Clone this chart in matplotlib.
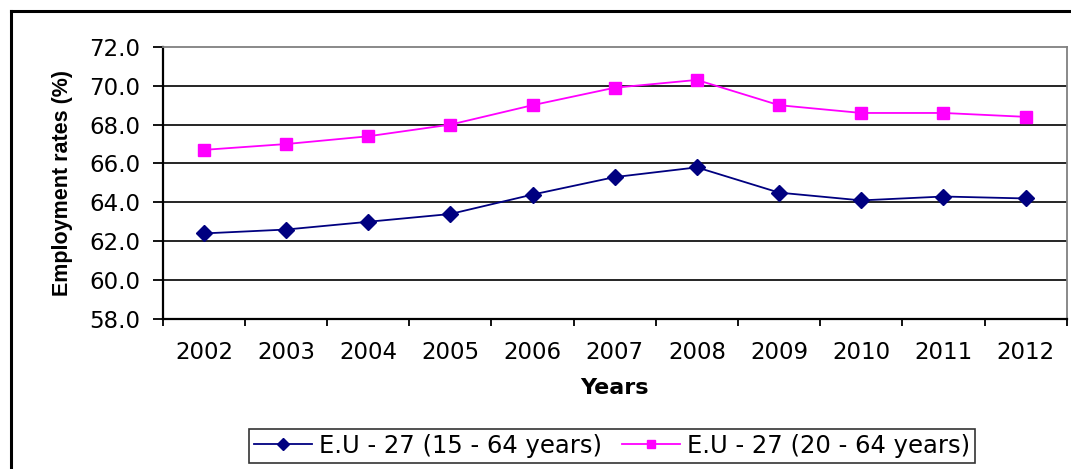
import matplotlib.pyplot as plt
from matplotlib.lines import Line2D

years = ['2002', '2003', '2004', '2005', '2006', '2007', '2008', '2009', '2010', '2011', '2012']
eu_15_64 = [62.4, 62.6, 63.0, 63.4, 64.4, 65.3, 65.8, 64.5, 64.1, 64.3, 64.2]
eu_20_64 = [66.7, 67.0, 67.4, 68.0, 69.0, 69.9, 70.3, 69.0, 68.6, 68.6, 68.4]
yticks = [58.0, 60.0, 62.0, 64.0, 66.0, 68.0, 70.0, 72.0]

plt.rcParams['font.family'] = ['DejaVu Sans']
fs = 16.5

fig = plt.figure(figsize=(10.71, 4.69), dpi=100)
ax = fig.add_axes([0.152, 0.320, 0.844, 0.580])

x = list(range(len(years)))
ax.plot(x, eu_15_64, color='#000080', marker='D', markersize=8, lw=1.3,
        label='E.U - 27 (15 - 64 years)')
ax.plot(x, eu_20_64, color='#FF00FF', marker='s', markersize=8.5, lw=1.3,
        label='E.U - 27 (20 - 64 years)')

ax.set_xlim(-0.5, len(years) - 0.5)
ax.set_ylim(58, 72)
ax.set_yticks(yticks)
ax.set_yticklabels(['%.1f' % v for v in yticks], fontsize=fs)
ax.set_xticks([i - 0.5 for i in range(len(years) + 1)])
ax.set_xticklabels([])
ax.set_xticks(x, minor=True)
ax.set_xticklabels(years, minor=True, fontsize=fs)
ax.tick_params(axis='x', which='minor', length=0, pad=16)
ax.tick_params(axis='x', which='major', length=5, width=1.3, direction='out')
ax.tick_params(axis='y', length=7, width=1.3, direction='out', pad=9)

for v in yticks[1:-1]:
    ax.axhline(v, color='black', lw=1.2, zorder=0)

for s in ['left', 'bottom']:
    ax.spines[s].set_linewidth(1.6)
    ax.spines[s].set_color('black')
for s in ['top', 'right']:
    ax.spines[s].set_color('#808080')
    ax.spines[s].set_linewidth(1.3)

ax.set_ylabel('Employment rates (%)', fontsize=15.5, fontweight='bold',
              family='Liberation Sans', labelpad=12)
ax.set_xlabel('Years', fontsize=16, fontweight='bold', labelpad=10)

leg = ax.legend(loc='upper center', bbox_to_anchor=(0.497, -0.36), ncol=2,
                fontsize=17.5, frameon=True, fancybox=False, handlelength=2.4,
                columnspacing=0.8, handletextpad=0.3, borderpad=0.2,
                markerscale=0.75)
leg.get_frame().set_edgecolor('black')
leg.get_frame().set_linewidth(1.2)

# outer chart border (left and top visible)
fig.add_artist(Line2D([11 / 1071, 11 / 1071], [0, 1 - 11 / 469], color='black', lw=2.2))
fig.add_artist(Line2D([11 / 1071, 1], [1 - 11 / 469, 1 - 11 / 469], color='black', lw=2.2))

fig.savefig('out.png', dpi=100)
